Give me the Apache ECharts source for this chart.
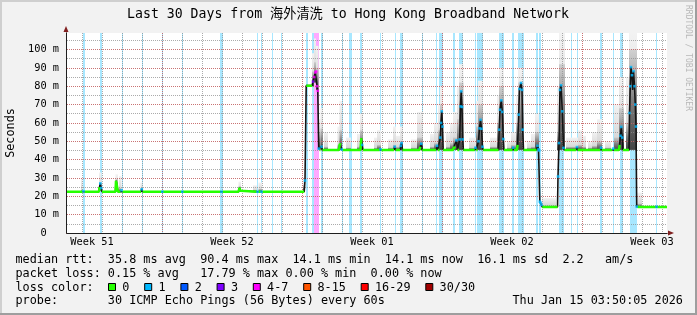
<!DOCTYPE html>
<html><head><meta charset="utf-8">
<script src="https://cdn.jsdelivr.net/npm/echarts@6/dist/echarts.min.js"></script>
<style>html,body{margin:0;padding:0;background:#f2f2f2}#c{width:697px;height:315px}</style>
</head><body><div id="c"></div>
<script>
// ================= DATA =================
// x values are days relative to the boundary between Week 51 and Week 52
const weekLabels = ['Week 51', 'Week 52', 'Week 01', 'Week 02', 'Week 03'];
const lossLabels = ['0', '1', '2', '3', '4-7', '8-15', '16-29', '30/30'];
const lossColors = ['#26ff00', '#00b8ff', '#0059ff', '#7e00ff', '#ff00ff', '#ff5500', '#ff0000', '#a10000'];

// median rtt (ms) and loss class at each sample
const medianDay = [
  -4.75,-4.55,-4.525,-4.475,-4.45,-3.975,-3.925,-3.875,
  -3.15,-3.125,-3.085,-3.04,-3.0,
  -2.325,-2.3,-2.225,-2.2,
  -2.075,-2.025,-1.975,
  -1.05,-1.01,-0.97,
  -0.025,0.015,0.05,
  0.975,1.015,1.05,
  2.925,2.975,3.025,
  3.825,3.875,3.925,3.95,
  4.74,4.775,4.81,
  4.94,4.975,5.01,
  6.975,7.01,7.075,7.11,7.15,
  7.21,7.5,7.55,7.61,7.665,7.71,7.75,7.79,7.835,
  7.885,7.925,7.975,8.025,
  8.85,8.89,8.94,8.985,9.025,
  9.925,9.965,10.01,10.05,
  10.89,10.925,10.96,
  11.6,11.64,11.68,
  11.9,11.94,11.98,12.025,
  12.875,12.915,12.965,13.015,
  13.71,13.75,13.79,
  13.875,13.915,13.95,13.99,14.025,14.06,
  14.55,14.6,14.65,14.725,14.775,
  14.85,14.885,14.925,14.96,15.0,15.035,15.07,
  15.64,15.675,15.71,
  15.775,15.825,15.875,15.925,15.975,16.025,16.06,
  16.825,16.86,16.9,16.965,17.015,17.065,17.1,
  17.525,17.56,17.6,
  17.75,17.78,17.835,17.875,17.95,18.0,18.035,18.075,
  18.725,18.775,18.825,18.86,18.89,18.93,18.97,19.01,
  19.775,19.8,19.85,19.9,19.95,20.015,20.075,20.125,
  20.71,20.745,20.78,
  21.92,21.955,21.99,
  22.515,22.56,22.6,
  22.85,22.88,22.925,22.965,23.01,23.045,
  23.35,23.375,23.415,23.45,23.5,23.535,23.575,23.625,23.665,23.7,23.735,23.77,
  24.69,24.725,24.76,25.25];
const medianMs = [
  22.5,22.5,23.3,23.3,22.5,22.5,22.8,22.5,
  22.5,25,27,24.5,22.5,
  22.5,28.5,28.8,22.5,
  22.5,23.3,22.5,
  22.5,23.8,22.5,
  22.5,22.5,22.5,
  22.5,22.5,22.5,
  22.5,22.5,22.5,
  22.5,24.6,23,22.5,
  22.5,22.5,22.5,
  22.5,22.5,22.5,
  22.5,23.3,23.3,22.5,28.6,
  80.3,80.3,82.5,85,87.5,88,80,77.5,46,
  45.3,45.3,47,45.3,
  45.3,48.5,48,45.5,45.3,
  45.3,51.7,48,45.3,
  45.3,45.6,45.3,
  45.3,47,45.3,
  45.3,47.5,49,45.3,
  45.3,47,48.6,45.3,
  45.3,47.5,45.3,
  45.3,52,60,66.3,58,45.3,
  45.3,47,46,50.5,45.3,
  45.3,51,69,77.2,68.7,51,45.3,
  45.3,46.5,45.3,
  45.3,50,57,61.7,56.8,47,45.3,
  45.3,56.3,67.2,72.3,66,51.2,45.3,
  45.3,46.5,45.3,
  45.3,48,64.5,78.5,81.8,78,56.3,45.3,
  45.3,47.5,45.6,45,17.1,16.5,15.3,14.2,
  14.2,30.8,49,78,80.5,66.3,46.4,45.3,
  45.3,46.8,45.3,
  45.3,46.5,45.3,
  45.3,46,45.3,
  45.3,48,53,57.8,52,45.3,
  45.3,65.4,80,90.4,86,78,88.2,80,70,58,14.4,14.2,
  14.2,14.3,14.2,14.2];
const medianLoss = [
  0,0,0,0,0,0,1,0,
  0,0,1,1,0,
  0,0,0,0,
  0,1,0,
  0,1,0,
  0,1,0,
  0,1,0,
  0,1,0,
  0,0,0,0,
  0,1,0,
  0,1,0,
  0,0,0,0,1,
  0,0,3,4,4,4,4,4,1,
  0,0,1,0,
  0,0,0,1,0,
  0,0,1,0,
  0,1,0,
  0,1,0,
  0,1,1,0,
  0,0,1,0,
  0,1,0,
  0,1,1,1,1,0,
  0,0,0,1,0,
  0,1,1,1,1,1,0,
  0,1,0,
  0,1,1,1,1,1,0,
  0,1,1,1,1,1,0,
  0,1,0,
  0,0,1,1,1,1,1,0,
  0,1,1,1,1,1,1,0,
  0,1,1,1,1,1,1,0,
  0,1,0,
  0,1,0,
  0,1,0,
  0,0,1,1,1,0,
  0,1,1,1,1,0,1,1,1,1,1,0,
  0,1,0,0];

// packet-loss periods (days) and their loss class
const lossStart = [-3.95,-3.10,-2.00,-1.00,0.00,1.00,2.90,4.75,4.95,5.50,5.95,7.20,7.50,7.60,7.95,9.00,9.35,9.90,10.90,11.65,11.90,13.00,13.70,13.85,14.55,14.85,15.65,15.75,16.85,17.50,17.80,18.70,18.85,19.85,20.45,20.75,21.90,22.55,22.90,23.40,23.60,24.70];
const lossEnd   = [-3.85,-3.00,-1.95,-0.95,0.05,1.05,3.05,4.80,5.00,5.55,6.00,7.30,7.60,7.85,8.05,9.05,9.50,10.00,10.95,11.70,12.05,13.05,13.75,14.05,14.65,15.05,15.70,16.05,17.10,17.60,18.10,18.80,18.95,20.10,20.50,20.80,22.00,22.60,23.05,23.60,23.75,24.75];
const lossClass = [1,1,1,1,1,1,1,1,1,1,1,1,1,4,1,1,1,1,1,1,1,1,1,1,1,1,1,1,1,1,1,1,1,1,1,1,1,1,1,1,1,1];

// smoke (ping distribution): period (days), lowest ping, top of dense part, highest ping (ms)
const smokeFrom  = [-4.05,-3.15,-2.325,-2.15,-1.075,3.825,4.55,4.825,7.05,7.5,7.6,7.7,7.825,7.925,8.1,8.775,8.875,9.2,9.75,9.9,10.6,10.75,11.3,11.55,11.7,11.9,12.45,12.75,13.4,13.6,13.8,13.9,14.2,14.4,14.55,14.75,14.85,15.35,15.7,15.8,16.4,16.75,16.85,17.25,17.45,17.7,17.8,18.25,18.45,18.65,19.0,19.75,19.85,20.2,20.55,20.8,21.0,21.3,21.5,21.75,22.15,22.6,22.85,23.2,23.35,23.75];
const smokeTo    = [-3.975,-3.025,-2.2,-2.025,-0.975,3.95,4.75,5.0,7.15,7.6,7.7,7.825,7.925,8.05,8.3,8.875,9.0,9.45,9.9,10.05,10.75,10.95,11.55,11.7,11.9,12.05,12.75,13.05,13.6,13.8,13.9,14.05,14.4,14.55,14.75,14.85,15.075,15.7,15.8,16.05,16.75,16.85,17.1,17.45,17.7,17.8,18.075,18.45,18.65,18.85,19.7,19.85,20.15,20.55,20.8,21.0,21.2,21.5,21.75,22.0,22.45,22.85,23.1,23.35,23.75,24.0];
const smokeLow   = [22.5,23,23,22.5,22.5,22.5,22.5,22.5,22.5,80,82,78,45.3,45.3,45.3,45.3,45.3,45.3,45.3,45.3,45.3,45.3,45.3,45.3,45.3,45.3,45.3,45.3,45.3,45.3,45.3,45.3,45.3,45.3,45.3,45.3,45.3,45.3,45.3,45.3,45.3,45.3,45.3,45.3,45.3,45.3,45.3,45.3,45.3,45.3,14.2,45.3,45.3,45.3,45.3,45.3,45.3,45.3,45.3,45.3,45.3,45.3,45.3,45.3,45.3,14.2];
const smokeDense = [23.5,27.5,29.5,24.5,24.5,25.5,23.5,24,26,88,93,90,55,57,47,48,56,46.5,47,56,46.5,48,46.5,48,47,50,46.5,52,47,49,56,70,47,49,52,62,82,46.5,58,70,47,60,80,46.5,48,60,82,46.5,47,55,15,55,92,47,47,48,47,46.5,47.5,50,46.5,52,68,60,100,16];
const smokeHigh  = [30,33,32,31,27.5,28,26,27.5,29,98,106,102,62,68,55,58,72,52,54,65,52,56,51,58,53,58,51,66,54,60,70,80,55,60,66,80,92,52,72,83,52,75,90,50,55,75,90,50,54,65,19,80,109,52,52,56,53,50,55,62,50,70,85,85,109,22];

// legend statistics
const rttStats  = ['35.8', '90.4', '14.1', '14.1', '16.1', '2.2'];
const lossStats = ['0.15', '17.79', '0.00', '0.00'];

// ================= CHART =================
const X_MIN = -4.75, X_MAX = 25.25, Y_MAX = 109;
const GL = 67, GT = 33, GW = 600, GH = 200;
const PXD = GW / (X_MAX - X_MIN);
const MONO = "'DejaVu Sans Mono', 'Noto Sans CJK SC', monospace";
const GRID_C = 'rgba(143,143,143,0.75)';
const MGRID_C = 'rgba(222,79,79,0.6)';

function rgba(hex, a) {
  const n = parseInt(hex.slice(1), 16);
  return 'rgba(' + (n >> 16) + ',' + ((n >> 8) & 255) + ',' + (n & 255) + ',' + a + ')';
}

const pts = medianDay.map((d, i) => [d, medianMs[i], medianLoss[i]]);
const greenData = pts.map(p => [p[0], p[2] === 0 ? p[1] : null]);
const dotData = pts.filter(p => p[2] > 0);
const stripeData = lossStart.map((s, i) => [s, lossEnd[i], lossClass[i]]);
const smokeData = smokeFrom.map((s, i) => [s, smokeTo[i], smokeLow[i], smokeDense[i], smokeHigh[i]]);

// sub-grids used only to lay out grid lines / labels (their min is a multiple of their interval)
const minorLeft = GL + (Math.ceil(X_MIN) - X_MIN) * PXD;
const minorRight = GL + (Math.floor(X_MAX) - X_MIN) * PXD;
const majorLeft = GL + (0 - X_MIN) * PXD;
const majorRight = GL + (21 - X_MIN) * PXD;
const labLeft = GL + (-3.5 - X_MIN) * PXD;
const labRight = GL + (24.5 - X_MIN) * PXD;

const hidY = i => ({gridIndex: i, type: 'value', show: false, min: 0, max: 1});
const axisFont = {fontFamily: MONO, fontSize: 10.3, color: '#000'};

const option = {
  animation: false,
  backgroundColor: '#f2f2f2',
  grid: [
    {left: GL, top: GT, width: GW, height: GH, show: true, backgroundColor: '#fff', borderWidth: 0},
    {left: minorLeft, top: GT, width: minorRight - minorLeft, height: GH},
    {left: majorLeft, top: GT, width: majorRight - majorLeft, height: GH},
    {left: labLeft, top: GT, width: labRight - labLeft, height: GH}
  ],
  xAxis: [
    {gridIndex: 0, type: 'value', min: X_MIN, max: X_MAX, position: 'bottom', z: 4,
     axisLine: {show: true, onZero: false, lineStyle: {color: '#1f1f1f', width: 1}},
     axisTick: {show: false}, axisLabel: {show: false}, splitLine: {show: false}},
    {gridIndex: 0, type: 'value', min: X_MIN, max: X_MAX, position: 'bottom', z: 3.9,
     axisLine: {show: true, onZero: false, symbol: ['none', 'triangle'], symbolSize: [5, 6], symbolOffset: [0, 4],
                lineStyle: {color: '#801f1f', width: 1}},
     axisTick: {show: false}, axisLabel: {show: false}, splitLine: {show: false}},
    {gridIndex: 1, type: 'value', min: Math.ceil(X_MIN), max: Math.floor(X_MAX), interval: 1, position: 'bottom', z: 3,
     axisLine: {show: false}, axisTick: {show: false}, axisLabel: {show: false},
     splitLine: {show: true, lineStyle: {color: GRID_C, width: 1, type: [1, 1]}}},
    {gridIndex: 2, type: 'value', min: 0, max: 21, interval: 7, position: 'bottom', z: 3.5,
     axisLine: {show: false}, axisTick: {show: false}, axisLabel: {show: false},
     splitLine: {show: true, lineStyle: {color: MGRID_C, width: 1, type: [1, 1]}}},
    {gridIndex: 3, type: 'value', min: 0, max: 28, interval: 7, position: 'bottom', z: 3,
     axisLine: {show: false}, axisTick: {show: false}, splitLine: {show: false},
     axisLabel: Object.assign({show: true, margin: 4, showMinLabel: true, showMaxLabel: true,
       formatter: v => weekLabels[Math.round(v / 7)] || ''}, axisFont)}
  ],
  yAxis: [
    {gridIndex: 0, type: 'value', min: 0, max: Y_MAX, interval: 10, position: 'left', offset: 1, z: 4,
     axisLine: {show: true, onZero: false, lineStyle: {color: '#1f1f1f', width: 1}},
     axisTick: {show: false},
     axisLabel: Object.assign({margin: 7, showMaxLabel: true,
       formatter: v => v === 0 ? '0  ' : (v <= 100 ? v + ' m' : '')}, axisFont),
     splitLine: {show: true, showMinLine: false, showMaxLine: false, lineStyle: {color: MGRID_C, width: 1, type: [1, 1]}}},
    {gridIndex: 0, type: 'value', min: 0, max: Y_MAX, interval: 5, position: 'left', offset: 1, z: 3,
     axisLine: {show: false}, axisTick: {show: false}, axisLabel: {show: false},
     splitLine: {show: true, showMinLine: false, showMaxLine: false, lineStyle: {color: GRID_C, width: 1, type: [1, 1]}}},
    {gridIndex: 0, type: 'value', min: 0, max: Y_MAX, position: 'left', offset: 1, z: 3.9,
     axisLine: {show: true, onZero: false, symbol: ['none', 'triangle'], symbolSize: [5, 6], symbolOffset: [0, 4],
                lineStyle: {color: '#801f1f', width: 1}},
     axisTick: {show: false}, axisLabel: {show: false}, splitLine: {show: false}},
    hidY(1), hidY(2), hidY(3)
  ],
  series: [
    { // loss stripes
      type: 'custom', xAxisIndex: 0, yAxisIndex: 0, z: 1, silent: true,
      encode: {x: [0, 1]}, data: stripeData,
      renderItem: (params, api) => {
        const cs = params.coordSys;
        const x0 = api.coord([api.value(0), 0])[0];
        const x1 = api.coord([api.value(1), 0])[0];
        return {type: 'rect', shape: {x: x0, y: cs.y, width: x1 - x0, height: cs.height},
                style: {fill: rgba(lossColors[api.value(2)], 0.34)}};
      }
    },
    { // smoke
      type: 'custom', xAxisIndex: 0, yAxisIndex: 0, z: 2, silent: true,
      encode: {x: [0, 1], y: [2, 3, 4]}, data: smokeData,
      renderItem: (params, api) => {
        const cs = params.coordSys;
        const pL = api.coord([api.value(0), api.value(2)]);
        const pR = api.coord([api.value(1), api.value(4)]);
        const pD = api.coord([api.value(0), api.value(3)]);
        const top = Math.max(pR[1], cs.y), dTop = Math.max(pD[1], cs.y);
        const x0 = pL[0], w = pR[0] - pL[0];
        return {type: 'group', children: [
          {type: 'rect', shape: {x: x0, y: top, width: w, height: pL[1] - top},
           style: {fill: new echarts.graphic.LinearGradient(0, 0, 0, 1, [
             {offset: 0, color: '#f2f2f2'}, {offset: 1, color: '#cfcfcf'}])}},
          {type: 'rect', shape: {x: x0, y: dTop, width: w, height: pL[1] - dTop},
           style: {fill: new echarts.graphic.LinearGradient(0, 0, 0, 1, [
             {offset: 0, color: 'rgba(180,180,180,0.5)'}, {offset: 0.5, color: '#808080'}, {offset: 1, color: '#444'}])}}
        ]};
      }
    },
    { // median (dark)
      type: 'line', xAxisIndex: 0, yAxisIndex: 0, z: 5, silent: true, showSymbol: false,
      data: pts.map(p => [p[0], p[1]]),
      lineStyle: {color: '#141414', width: 1.6}
    },
    { // median, no loss
      type: 'line', xAxisIndex: 0, yAxisIndex: 0, z: 6, silent: true, showSymbol: false, connectNulls: false,
      data: greenData,
      lineStyle: {color: lossColors[0], width: 2.5}
    },
    { // median samples with loss
      type: 'scatter', xAxisIndex: 0, yAxisIndex: 0, z: 7, silent: true,
      symbol: 'rect', symbolSize: 2.6, data: dotData,
      itemStyle: {color: p => lossColors[p.value[2]]}
    }
  ],
  graphic: []
};

// ---------- texts, legend, frame ----------
const LX = 15.5, CW = 7.1, LF = '11.8px ' + MONO;
const line1 = 'median rtt:  ' + rttStats[0] + ' ms avg  ' + rttStats[1] + ' ms max  ' + rttStats[2] + ' ms min  ' +
              rttStats[3] + ' ms now  ' + rttStats[4] + ' ms sd  ' + rttStats[5] + '   am/s';
const line2 = 'packet loss: ' + lossStats[0] + ' % avg   ' + lossStats[1] + ' % max ' + lossStats[2] + ' % min  ' +
              lossStats[3] + ' % now';
const line4a = 'probe:       30 ICMP Echo Pings (56 Bytes) every 60s';
const line4b = 'Thu Jan 15 03:50:05 2026';
const G = option.graphic;
const txt = (x, y, s, font) => G.push({type: 'text', x: x, y: y, silent: true,
  style: {text: s, font: font, fill: '#000', align: 'left', verticalAlign: 'middle'}});

// frame
G.push({type: 'rect', silent: true, shape: {x: 0, y: 0, width: 697, height: 2}, style: {fill: '#cfcfcf'}});
G.push({type: 'rect', silent: true, shape: {x: 0, y: 0, width: 2, height: 315}, style: {fill: '#cfcfcf'}});
G.push({type: 'rect', silent: true, shape: {x: 0, y: 313, width: 697, height: 2}, style: {fill: '#9e9e9e'}});
G.push({type: 'rect', silent: true, shape: {x: 695, y: 0, width: 2, height: 315}, style: {fill: '#9e9e9e'}});

// title
G.push({type: 'text', x: 348, y: 15, silent: true,
  style: {text: 'Last 30 Days from 海外清洗 to Hong Kong Broadband Network', font: '13.2px ' + MONO,
          fill: '#000', align: 'center', verticalAlign: 'middle'}});
// vertical unit
G.push({type: 'text', x: 10.5, y: 133, rotation: Math.PI / 2, silent: true,
  style: {text: 'Seconds', font: LF, fill: '#000', align: 'center', verticalAlign: 'middle'}});
// watermark
G.push({type: 'text', x: 688, y: 58, rotation: -Math.PI / 2, silent: true,
  style: {text: 'RRDTOOL / TOBI OETIKER', font: '8px ' + MONO, fill: '#b8b8b8', align: 'center', verticalAlign: 'middle'}});

txt(LX, 259.5, line1, LF);
txt(LX, 273.5, line2, LF);
txt(LX, 287.5, 'loss color:', LF);
txt(LX, 301, line4a, LF);
txt(LX + 70 * CW, 301, line4b, LF);

let bx = 108;
lossLabels.forEach((lab, i) => {
  G.push({type: 'rect', silent: true, shape: {x: bx + 0.5, y: 283.5, width: 7, height: 7},
          style: {fill: lossColors[i], stroke: '#000', lineWidth: 1}});
  txt(bx + 14.3, 287.5, lab, LF);
  bx = bx + 14.3 + lab.length * CW + 14.8;
});

const chart = echarts.init(document.getElementById('c'), null, {renderer: 'canvas'});
chart.setOption(option);
</script>
</body></html>
